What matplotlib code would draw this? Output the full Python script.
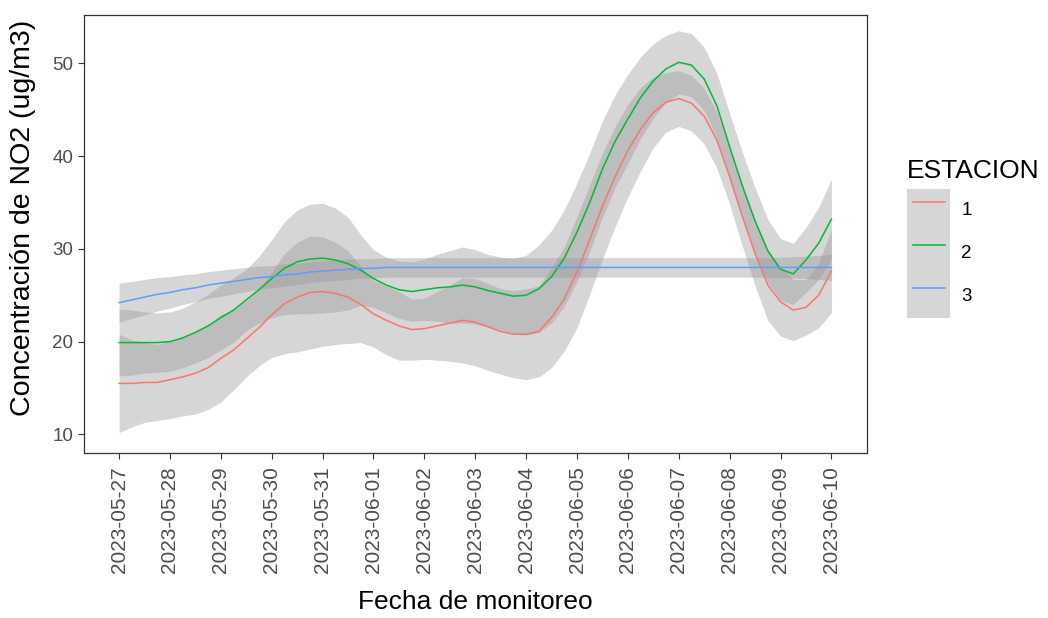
import pandas as pd
import matplotlib.pyplot as plt
from matplotlib.patches import Patch
from matplotlib.lines import Line2D
from matplotlib.legend_handler import HandlerTuple

plt.rcParams["font.family"] = ["Liberation Sans", "DejaVu Sans"]

# smoothed NO2 curves, read every 6 h from 2023-05-27 to 2023-06-10
tiempo = pd.date_range("2023-05-27", "2023-06-10", freq="6h")
fechas = ["2023-05-27", "2023-05-28", "2023-05-29", "2023-05-30", "2023-05-31",
          "2023-06-01", "2023-06-02", "2023-06-03", "2023-06-04", "2023-06-05",
          "2023-06-06", "2023-06-07", "2023-06-08", "2023-06-09", "2023-06-10"]

est1 = [15.5, 15.5, 15.6, 15.6, 15.9, 16.2, 16.6, 17.2, 18.2, 19.1,
        20.3, 21.5, 22.9, 24.1, 24.8, 25.3, 25.4, 25.2, 24.8, 24.0,
        23.0, 22.3, 21.7, 21.3, 21.4, 21.7, 22.0, 22.3, 22.1, 21.6,
        21.1, 20.8, 20.8, 21.1, 22.6, 24.6, 27.5, 31.0, 34.6, 37.8,
        40.6, 42.9, 44.7, 45.8, 46.2, 45.7, 44.3, 41.7, 37.8, 33.5,
        29.5, 26.1, 24.3, 23.4, 23.7, 25.0, 27.6]
est2 = [19.9, 19.9, 19.9, 19.9, 20.0, 20.4, 21.0, 21.7, 22.6, 23.4,
        24.5, 25.6, 26.8, 27.9, 28.6, 28.9, 29.0, 28.8, 28.4, 27.7,
        26.8, 26.1, 25.6, 25.4, 25.6, 25.8, 25.9, 26.1, 25.9, 25.5,
        25.2, 24.9, 25.0, 25.7, 27.0, 29.0, 31.8, 35.0, 38.6, 41.6,
        44.0, 46.3, 48.1, 49.4, 50.1, 49.8, 48.3, 45.4, 41.0, 36.8,
        33.0, 29.8, 27.8, 27.3, 28.8, 30.6, 33.2]
est3 = [24.2, 24.5, 24.8, 25.1, 25.3, 25.6, 25.8, 26.1, 26.3, 26.5,
        26.7, 26.9, 27.0, 27.2, 27.3, 27.5, 27.6, 27.7, 27.8, 27.9,
        27.9, 28.0, 28.0, 28.0, 28.0, 28.0, 28.0, 28.0, 28.0, 28.0,
        28.0, 28.0, 28.0, 28.0, 28.0, 28.0, 28.0, 28.0, 28.0, 28.0,
        28.0, 28.0, 28.0, 28.0, 28.0, 28.0, 28.0, 28.0, 28.0, 28.0,
        28.0, 28.0, 28.0, 28.0, 28.0, 28.0, 28.0]

# half width of the confidence band
ic1 = [5.3, 4.7, 4.3, 4.1, 4.2, 4.2, 4.4, 4.5, 4.7, 4.3,
       4.1, 4.1, 4.6, 5.4, 5.9, 6.1, 5.9, 5.5, 5.0, 4.1,
       3.6, 3.7, 3.7, 3.3, 3.3, 3.7, 4.1, 4.6, 4.7, 4.7,
       4.6, 4.7, 4.9, 4.9, 5.4, 5.6, 6.0, 5.9, 5.7, 5.4,
       5.0, 4.5, 3.8, 3.2, 3.0, 3.0, 3.0, 3.0, 3.0, 3.2,
       3.5, 3.8, 3.7, 3.3, 3.0, 3.5, 4.5]
ic2 = [3.6, 3.5, 3.3, 3.2, 3.2, 3.2, 3.3, 3.4, 3.5, 3.5,
       3.3, 3.6, 4.2, 5.0, 5.6, 5.9, 5.9, 5.6, 5.0, 3.8,
       3.1, 3.0, 3.1, 3.2, 3.3, 3.6, 3.9, 4.1, 4.0, 3.9,
       3.9, 4.1, 4.3, 4.7, 5.0, 5.2, 5.3, 5.3, 5.2, 5.0,
       4.8, 4.4, 4.0, 3.6, 3.4, 3.4, 3.4, 3.5, 3.6, 3.6,
       3.6, 3.4, 3.3, 3.3, 3.5, 3.9, 4.3]
ic3 = [2.1, 2.0, 1.9, 1.8, 1.7, 1.6, 1.5, 1.45, 1.4, 1.35,
       1.3, 1.25, 1.2, 1.2, 1.15, 1.15, 1.1, 1.1, 1.1, 1.05,
       1.05, 1.05, 1.05, 1.05, 1.05, 1.05, 1.05, 1.05, 1.05, 1.05,
       1.05, 1.05, 1.05, 1.05, 1.05, 1.05, 1.05, 1.05, 1.05, 1.05,
       1.05, 1.05, 1.05, 1.05, 1.05, 1.05, 1.05, 1.05, 1.05, 1.05,
       1.05, 1.05, 1.1, 1.15, 1.2, 1.3, 1.4]

estaciones = ["1", "2", "3"]
colores = ["#F8766D", "#00BA38", "#619CFF"]
banda = "#999999"

fig = plt.figure(figsize=(10.48, 6.18), dpi=100)
ax = fig.add_axes([83.5 / 1048, 165 / 618, 783.5 / 1048, 438 / 618])

for y, ic, c in zip([est1, est2, est3], [ic1, ic2, ic3], colores):
    lo = [a - b for a, b in zip(y, ic)]
    hi = [a + b for a, b in zip(y, ic)]
    ax.fill_between(tiempo, lo, hi, color=banda, alpha=0.4, linewidth=0)
    ax.plot(tiempo, y, color=c, lw=1.1)

ticks = pd.to_datetime(fechas)
ax.set_xticks(ticks)
ax.set_xticklabels(fechas, rotation=90, fontsize=15, color="#4D4D4D")
ax.set_xlim(ticks[0] - pd.Timedelta(hours=16.8), ticks[-1] + pd.Timedelta(hours=16.8))
ax.set_ylim(8.0, 55.2)
ax.set_yticks([10, 20, 30, 40, 50])
ax.tick_params(axis="y", labelsize=13.5, labelcolor="#4D4D4D")
ax.tick_params(length=4.5, width=0.8, color="#333333", pad=3)
ax.tick_params(axis="x", pad=5)

for s in ax.spines.values():
    s.set_color("#333333")
    s.set_linewidth(0.9)

ax.set_xlabel("Fecha de monitoreo", fontsize=19, va="baseline")
ax.xaxis.set_label_coords(0.5, -0.356)
ax.set_ylabel("Concentración de NO2 (ug/m3)", fontsize=20.5, va="center")
ax.yaxis.set_label_coords(-0.077, 0.537)

handles = [(Patch(facecolor=banda, alpha=0.4, edgecolor="none"), Line2D([], [], color=c, lw=1.1))
           for c in colores]
leg = fig.legend(handles, estaciones, title="ESTACION", loc="upper left",
                 bbox_to_anchor=(907 / 1048, 1 - 159 / 618), frameon=False,
                 fontsize=13.5, title_fontsize=19, handlelength=2.3, handleheight=3.15,
                 numpoints=2, labelspacing=0, handletextpad=0.6, borderpad=0, borderaxespad=0,
                 alignment="left", handler_map={tuple: HandlerTuple(ndivide=1)})
# small gap between the legend title and the keys
leg._legend_box.sep = 4

fig.savefig("out.png", dpi=100)
